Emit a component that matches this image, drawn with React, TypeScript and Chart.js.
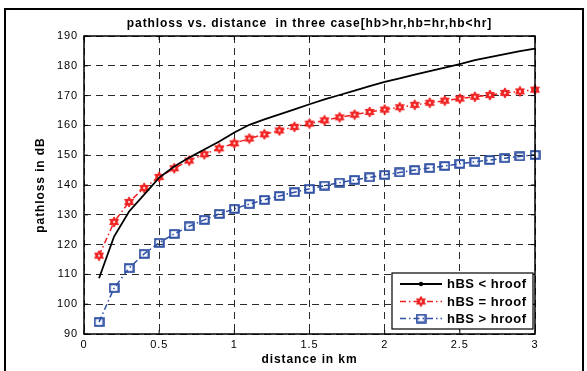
import React, { useEffect, useRef } from "react";
import { Chart, registerables } from "chart.js";
Chart.register(...registerables);

const FONT = "'Liberation Sans', Arial, Helvetica, sans-serif";

const titleText = "pathloss vs. distance  in three case[hb>hr,hb=hr,hb<hr]";
const xLabel = "distance in km";
const yLabel = "pathloss in dB";
const legendLabels = ["hBS < hroof", "hBS = hroof", "hBS > hroof"];

const distances = [
  0.1, 0.2, 0.3, 0.4, 0.5, 0.6, 0.7, 0.8, 0.9, 1.0,
  1.1, 1.2, 1.3, 1.4, 1.5, 1.6, 1.7, 1.8, 1.9, 2.0,
  2.1, 2.2, 2.3, 2.4, 2.5, 2.6, 2.7, 2.8, 2.9, 3.0,
];
// hBS < hroof (black)
const lossBelowRoof = [
  108.7, 122.7, 131.1, 136.8, 142.5, 146.2, 149.2, 151.9, 154.6, 157.6,
  160.2, 162.0, 163.7, 165.4, 167.1, 168.7, 170.2, 171.7, 173.2, 174.6,
  175.8, 177.0, 178.2, 179.4, 180.6, 181.9, 182.9, 183.9, 184.9, 185.8,
];
// hBS = hroof (red)
const lossEqualRoof = [
  116.3, 127.6, 134.3, 139.0, 142.7, 145.6, 148.2, 150.3, 152.3, 154.0,
  155.6, 157.0, 158.3, 159.5, 160.6, 161.7, 162.7, 163.6, 164.5, 165.3,
  166.1, 166.9, 167.6, 168.3, 169.0, 169.6, 170.2, 170.9, 171.4, 172.0,
];
// hBS > hroof (blue)
const lossAboveRoof = [
  94.0, 105.4, 112.1, 116.9, 120.6, 123.6, 126.1, 128.3, 130.3, 132.0,
  133.6, 135.0, 136.3, 137.6, 138.7, 139.8, 140.8, 141.7, 142.6, 143.4,
  144.2, 145.0, 145.7, 146.4, 147.1, 147.8, 148.4, 149.0, 149.6, 150.1,
];

const xMin = 0, xMax = 3, xStep = 0.5;
const yMin = 90, yMax = 190, yStep = 10;

const BLACK = "#000000";
const RED = "#f02020";
const BLUE = "#2e4fa3";
const DASHDOT = [6, 3, 1.5, 3];

function makeHexagram(): HTMLCanvasElement {
  const c = document.createElement("canvas");
  c.width = 12; c.height = 12;
  const g = c.getContext("2d")!;
  const cx = 6, cy = 6, R = 5.1, r = R / Math.sqrt(3);
  g.beginPath();
  for (let i = 0; i < 12; i++) {
    const a = -Math.PI / 2 + (i * Math.PI) / 6;
    const rad = i % 2 === 0 ? R : r;
    const px = cx + rad * Math.cos(a), py = cy + rad * Math.sin(a);
    if (i === 0) g.moveTo(px, py); else g.lineTo(px, py);
  }
  g.closePath();
  g.fillStyle = RED;
  g.fill();
  g.lineWidth = 1;
  g.strokeStyle = RED;
  g.stroke();
  g.beginPath();
  g.arc(cx, cy, 1.2, 0, Math.PI * 2);
  g.fillStyle = "#ffd0d0";
  g.fill();
  return c;
}

function makeSquare(): HTMLCanvasElement {
  const c = document.createElement("canvas");
  c.width = 11; c.height = 10;
  const g = c.getContext("2d")!;
  g.lineWidth = 2;
  g.strokeStyle = BLUE;
  g.strokeRect(1.2, 1.2, 8.6, 7.6);
  return c;
}

export default function App() {
  const ref = useRef<HTMLCanvasElement | null>(null);

  useEffect(() => {
    const canvas = ref.current;
    if (!canvas) return;
    const hex = makeHexagram();
    const sq = makeSquare();

    const framePlugin = {
      id: "frame",
      beforeDraw(chart: any) {
        const ctx = chart.ctx;
        ctx.save();
        ctx.fillStyle = "#ffffff";
        ctx.fillRect(0, 0, chart.width, chart.height);
        ctx.lineWidth = 2;
        ctx.strokeStyle = "#000";
        ctx.strokeRect(5, 9, 578, 400);
        ctx.restore();
        (ctx as any).letterSpacing = "0.9px";
      },
    };

    const boxPlugin = {
      id: "box",
      afterDatasetsDraw(chart: any) {
        const ctx = chart.ctx;
        const { left, right, top, bottom } = chart.chartArea;
        const xs = chart.scales.x, ys = chart.scales.y;
        ctx.save();
        ctx.setLineDash([]);
        ctx.strokeStyle = "#000";
        ctx.lineWidth = 1;
        const tl = 4;
        ctx.beginPath();
        for (let v = xMin; v <= xMax + 1e-9; v += xStep) {
          const px = xs.getPixelForValue(v);
          ctx.moveTo(px, bottom); ctx.lineTo(px, bottom - tl);
          ctx.moveTo(px, top); ctx.lineTo(px, top + tl);
        }
        for (let v = yMin; v <= yMax + 1e-9; v += yStep) {
          const py = ys.getPixelForValue(v);
          ctx.moveTo(left, py); ctx.lineTo(left + tl, py);
          ctx.moveTo(right, py); ctx.lineTo(right - tl, py);
        }
        ctx.stroke();
        ctx.lineWidth = 1.5;
        ctx.strokeRect(left, top, right - left, bottom - top);
        ctx.restore();
      },
      afterDraw(chart: any) {
        const ctx = chart.ctx;
        const { right, bottom } = chart.chartArea;
        const w = 141, h = 56;
        const bx = right - 2 - w, by = bottom - 5 - h;
        ctx.save();
        ctx.fillStyle = "#fff";
        ctx.fillRect(bx, by, w, h);
        ctx.lineWidth = 1.2;
        ctx.strokeStyle = "#000";
        ctx.setLineDash([]);
        ctx.strokeRect(bx, by, w, h);
        const rows = [by + 11, by + 28.5, by + 45.5];
        const ds = chart.data.datasets;
        for (let i = 0; i < 3; i++) {
          const d = ds[i];
          const y = rows[i];
          ctx.beginPath();
          ctx.lineWidth = d.borderWidth;
          ctx.strokeStyle = d.borderColor;
          ctx.setLineDash(d.borderDash || []);
          ctx.moveTo(bx + 8, y);
          ctx.lineTo(bx + 50, y);
          ctx.stroke();
          ctx.setLineDash([]);
          const mx = bx + 29;
          if (i === 0) {
            ctx.beginPath();
            ctx.arc(mx, y, 2.2, 0, Math.PI * 2);
            ctx.fillStyle = BLACK;
            ctx.fill();
          } else {
            const img = d.pointStyle as HTMLCanvasElement;
            ctx.drawImage(img, mx - img.width / 2, y - img.height / 2);
          }
          (ctx as any).letterSpacing = "0.5px";
          ctx.font = `bold 13px ${FONT}`;
          ctx.fillStyle = "#000";
          ctx.textAlign = "left";
          ctx.textBaseline = "middle";
          ctx.fillText(legendLabels[i], bx + 55, y + 0.5);
        }
        ctx.restore();
      },
    };

    const mk = (arr: number[]) => distances.map((d, i) => ({ x: d, y: arr[i] }));

    const gridCfg = { color: "#2a2a2a", lineWidth: 1, drawTicks: false };
    const borderCfg = { display: false, dash: [7, 5] };

    const chart = new Chart(canvas, {
      type: "line",
      data: {
        datasets: [
          {
            label: legendLabels[0],
            data: mk(lossBelowRoof),
            borderColor: BLACK,
            backgroundColor: BLACK,
            borderWidth: 1.8,
            pointRadius: 0,
            tension: 0,
            clip: false as any,
          },
          {
            label: legendLabels[1],
            data: mk(lossEqualRoof),
            borderColor: RED,
            backgroundColor: RED,
            borderWidth: 1.5,
            borderDash: DASHDOT,
            pointStyle: hex as any,
            pointRadius: 5,
            tension: 0,
            clip: false as any,
          },
          {
            label: legendLabels[2],
            data: mk(lossAboveRoof),
            borderColor: BLUE,
            backgroundColor: "rgba(0,0,0,0)",
            borderWidth: 1.5,
            borderDash: DASHDOT,
            pointStyle: sq as any,
            pointRadius: 5,
            tension: 0,
            clip: false as any,
          },
        ],
      },
      options: {
        animation: false,
        responsive: false,
        devicePixelRatio: 1,
        events: [],
        layout: { padding: { left: 0, right: 52, top: 0, bottom: 3 } },
        plugins: {
          legend: { display: false },
          tooltip: { enabled: false },
          title: {
            display: true,
            text: titleText,
            color: "#000",
            fullSize: false,
            font: { family: FONT, size: 12, weight: "bold" },
            padding: { top: 16, bottom: 5.6 },
          },
        },
        scales: {
          x: {
            type: "linear",
            min: xMin,
            max: xMax,
            ticks: {
              stepSize: xStep,
              padding: 4,
              color: "#000",
              maxRotation: 0,
              autoSkip: false,
              font: { family: FONT, size: 11 },
              callback: (v: any) => String(Number(v)),
            },
            grid: gridCfg,
            border: borderCfg,
            title: {
              display: true,
              text: xLabel,
              color: "#000",
              font: { family: FONT, size: 12, weight: "bold" },
              padding: { top: 0, bottom: 1.5 },
            },
            afterFit(s: any) { s.height = 34; },
          },
          y: {
            type: "linear",
            min: yMin,
            max: yMax,
            ticks: {
              stepSize: yStep,
              padding: 6,
              color: "#000",
              font: { family: FONT, size: 11 },
              callback: (v: any) => String(Number(v)),
            },
            grid: gridCfg,
            border: borderCfg,
            title: {
              display: true,
              text: yLabel,
              color: "#000",
              font: { family: FONT, size: 12, weight: "bold" },
              padding: { top: 33.4, bottom: 0 },
            },
            afterFit(s: any) { s.width = 84; },
          },
        },
      } as any,
      plugins: [framePlugin, boxPlugin],
    });
    return () => chart.destroy();
  }, []);

  return (
    <div style={{ position: "fixed", left: 0, top: 0, width: 587, height: 371, background: "#fff" }}>
      <canvas ref={ref} width={587} height={371} style={{ width: 587, height: 371, display: "block" }} />
    </div>
  );
}
